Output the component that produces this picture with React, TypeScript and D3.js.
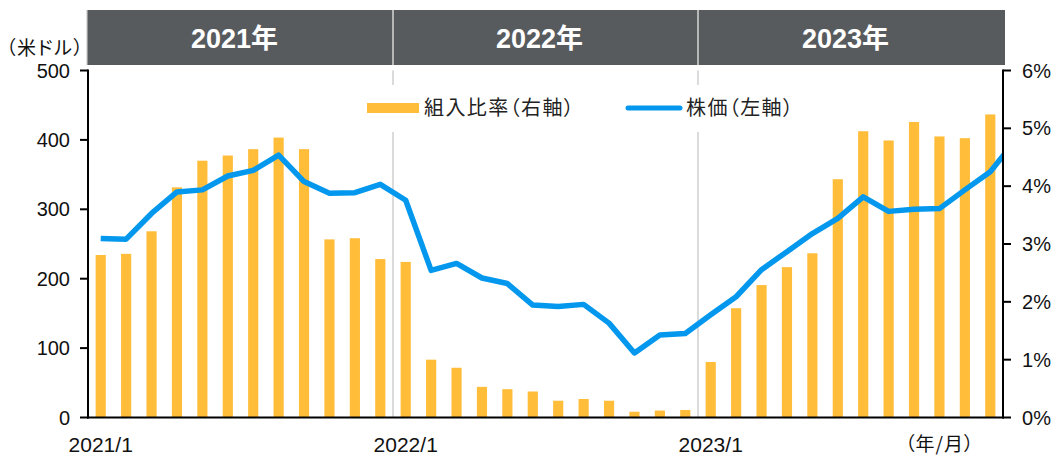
import React from "react";
import * as d3 from "d3";

const months = [
  "2021/1","2021/2","2021/3","2021/4","2021/5","2021/6","2021/7","2021/8","2021/9","2021/10","2021/11","2021/12",
  "2022/1","2022/2","2022/3","2022/4","2022/5","2022/6","2022/7","2022/8","2022/9","2022/10","2022/11","2022/12",
  "2023/1","2023/2","2023/3","2023/4","2023/5","2023/6","2023/7","2023/8","2023/9","2023/10","2023/11","2023/12",
];
// 組入比率 (%), right axis
const ratio = [
  2.81, 2.83, 3.22, 3.98, 4.44, 4.53, 4.64, 4.84, 4.64, 3.08, 3.10, 2.74,
  2.69, 1.00, 0.86, 0.53, 0.49, 0.45, 0.29, 0.32, 0.29, 0.10, 0.12, 0.13,
  0.96, 1.89, 2.29, 2.60, 2.84, 4.12, 4.95, 4.79, 5.11, 4.86, 4.83, 5.24,
];
// 株価 (米ドル), left axis (last point is 2024/1, clipped at the plot edge)
const price = [
  258, 257, 294, 325, 328, 348, 356, 378, 340, 323, 324, 336,
  313, 212, 222, 201, 193, 162, 160, 163, 136, 93, 119, 121,
  148, 174, 213, 239, 265, 287, 318, 297, 300, 301, 328, 354, 400,
];
const years = ["2021年", "2022年", "2023年"];
const leftTicks = [0, 100, 200, 300, 400, 500];
const rightTicks = [0, 1, 2, 3, 4, 5, 6];
const xLabels = ["2021/1", "2022/1", "2023/1"];

const W = 1056, H = 455;
const L = 88, R = 1003, T = 70.5, B = 417.5;
const NUM = "'Liberation Sans', Arial, 'Noto Sans CJK JP', sans-serif";
const CJK = "'Noto Sans CJK JP', 'Liberation Sans', sans-serif";
const ORANGE = "#FFBD3A";
const BLUE = "#0398EE";
const palt = { fontFeatureSettings: "'palt'" };

export default function App() {
  const x = d3.scaleBand<string>().domain(months).range([L, R]).paddingInner(0.6).paddingOuter(0.3);
  const step = x.step();
  const yL = d3.scaleLinear().domain([0, 500]).range([B, T]);
  const yR = d3.scaleLinear().domain([0, 6]).range([B, T]);
  const cx = (i: number) => (x(months[0]) as number) + x.bandwidth() / 2 + i * step;
  const line = d3.line<number>().x((_, i) => cx(i)).y((d) => yL(d));
  const boundary = (i: number) => L + i * step;

  return (
    <svg width={W} height={H} style={{ position: "absolute", left: 0, top: 0, background: "#fff" }}>
      <defs>
        <clipPath id="plotclip">
          <rect x={L} y={0} width={R - L} height={B} />
        </clipPath>
      </defs>
      {/* header */}
      <rect x={L - 1} y={10} width={R + 2 - (L - 1)} height={55} fill="#585B5E" />
      <line x1={L - 1} x2={L - 1} y1={10} y2={65} stroke="#c8c8c8" strokeWidth={1.2} />
      {years.map((yr, k) => {
        const x0 = boundary(k * 12);
        const x1 = k === years.length - 1 ? R + 2 : boundary((k + 1) * 12);
        return (
          <g key={yr}>
            {k > 0 && <line x1={x0} x2={x0} y1={10} y2={65} stroke="#d6d6d6" strokeWidth={1.5} />}
            <text x={(x0 + x1) / 2 - 6} y={48} textAnchor="middle" fill="#fff" fontWeight="bold"
              fontSize={27} fontFamily={NUM}>{yr}</text>
          </g>
        );
      })}
      {/* year separators */}
      {[12, 24].map((i) => (
        <line key={i} x1={boundary(i)} x2={boundary(i)} y1={T} y2={B} stroke="#cfcfcf" strokeWidth={1.5} />
      ))}
      {/* bars */}
      {ratio.map((v, i) => (
        <rect key={i} x={x(months[i])} y={yR(v)} width={x.bandwidth()} height={B - yR(v)} fill={ORANGE} />
      ))}
      {/* legend */}
      <rect x={360} y={85} width={440} height={47} fill="#fff" />
      <rect x={367} y={103} width={52} height={10} fill={ORANGE} />
      <text x={424} y={115} fontSize={20} letterSpacing={1.4} fontFamily={CJK} fill="#222" style={palt}>組入比率（右軸）</text>
      <line x1={628} x2={680} y1={108} y2={108} stroke={BLUE} strokeWidth={5} strokeLinecap="round" />
      <text x={686} y={115} fontSize={20} letterSpacing={1.4} fontFamily={CJK} fill="#222" style={palt}>株価（左軸）</text>
      {/* price line */}
      <path d={line(price) || ""} fill="none" stroke={BLUE} strokeWidth={5.5} strokeLinejoin="round" clipPath="url(#plotclip)" />
      {/* axes */}
      <line x1={L} x2={L} y1={T - 1} y2={B + 1} stroke="#000" strokeWidth={2} />
      <line x1={R} x2={R} y1={T - 1} y2={B + 1} stroke="#000" strokeWidth={2} />
      <line x1={L - 1} x2={R + 1} y1={B} y2={B} stroke="#000" strokeWidth={2} />
      {leftTicks.map((t) => (
        <g key={t}>
          <line x1={L - 8} x2={L} y1={yL(t)} y2={yL(t)} stroke="#000" strokeWidth={2} />
          <text x={70} y={yL(t) + 7} textAnchor="end" fontSize={20} fontFamily={NUM} fill="#111">{t}</text>
        </g>
      ))}
      {rightTicks.map((t) => (
        <g key={t}>
          <line x1={R} x2={R + 8} y1={yR(t)} y2={yR(t)} stroke="#000" strokeWidth={2} />
          <text x={1022} y={yR(t) + 7} textAnchor="start" fontSize={20} fontFamily={NUM} fill="#111">{t}%</text>
        </g>
      ))}
      {xLabels.map((lab) => (
        <text key={lab} x={(x(lab) as number) + x.bandwidth() / 2} y={452} textAnchor="middle" fontSize={21}
          fontFamily={NUM} fill="#111">{lab}</text>
      ))}
      <text x={905} y={451} fontSize={19} letterSpacing={1} fontFamily={CJK} fill="#111" style={palt}>（年/月）</text>
      <text x={6} y={55} fontSize={19} letterSpacing={1.5} fontFamily={CJK} fill="#111" style={palt}>（米ドル）</text>
    </svg>
  );
}
